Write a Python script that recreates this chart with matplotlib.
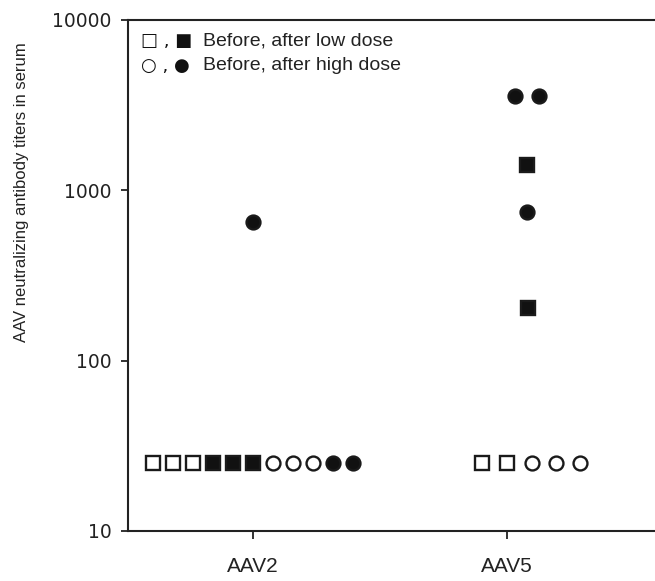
import numpy as np
from matplotlib import pyplot as plt

# group positions on the x axis
groups = ["AAV2", "AAV5"]
group_pos = [1, 2]

# AAV2: offsets from the group tick, and titers
aav2_open_sq_dx = [-0.394, -0.315, -0.236]
aav2_open_sq_y = [25, 25, 25]
aav2_fill_sq_dx = [-0.157, -0.079, 0.0]
aav2_fill_sq_y = [25, 25, 25]
aav2_open_ci_dx = [0.079, 0.157, 0.236]
aav2_open_ci_y = [25, 25, 25]
aav2_fill_ci_dx = [0.0, 0.315, 0.394]
aav2_fill_ci_y = [650, 25, 25]

# AAV5
aav5_open_sq_dx = [-0.098, 0.0]
aav5_open_sq_y = [25, 25]
aav5_fill_sq_dx = [0.079, 0.083]
aav5_fill_sq_y = [1400, 205]
aav5_open_ci_dx = [0.098, 0.193, 0.287]
aav5_open_ci_y = [25, 25, 25]
aav5_fill_ci_dx = [0.031, 0.126, 0.079]
aav5_fill_ci_y = [3600, 3600, 750]

legend_labels = ["Before, after low dose", "Before, after high dose"]
legend_glyphs = ["\u25a1 , \u25a0", "\u25cb , \u25cf"]

fig = plt.figure(figsize=(6.55, 5.81), dpi=100)
ax = fig.add_axes([0.1954, 0.0861, 0.8046, 0.8795])

ms = 10
mew = 1.7


def draw(pos, dx, y, marker, filled):
    x = pos + np.array(dx)
    ax.plot(x, y, linestyle="none", marker=marker, markersize=ms,
            markeredgewidth=mew, markeredgecolor="#1a1a1a",
            markerfacecolor="#111111" if filled else "white", clip_on=False)


draw(group_pos[0], aav2_open_sq_dx, aav2_open_sq_y, "s", False)
draw(group_pos[0], aav2_fill_sq_dx, aav2_fill_sq_y, "s", True)
draw(group_pos[0], aav2_open_ci_dx, aav2_open_ci_y, "o", False)
draw(group_pos[0], aav2_fill_ci_dx, aav2_fill_ci_y, "o", True)
draw(group_pos[1], aav5_open_sq_dx, aav5_open_sq_y, "s", False)
draw(group_pos[1], aav5_fill_sq_dx, aav5_fill_sq_y, "s", True)
draw(group_pos[1], aav5_open_ci_dx, aav5_open_ci_y, "o", False)
draw(group_pos[1], aav5_fill_ci_dx, aav5_fill_ci_y, "o", True)

ax.set_yscale("log")
ax.set_ylim(10, 10000)
ax.set_xlim(0.508, 2.583)
ax.set_yticks([10, 100, 1000, 10000])
ax.set_yticklabels(["10", "100", "1000", "10000"], fontfamily="DejaVu Sans", fontsize=13.5)
ax.yaxis.set_minor_locator(plt.NullLocator())
ax.set_xticks(group_pos)
ax.set_xticklabels(groups, fontfamily="Liberation Sans", fontsize=15)
ax.tick_params(axis="y", direction="out", length=5, width=1.3, pad=7, colors="#222222")
ax.tick_params(axis="x", direction="out", length=6, width=1.3, pad=13, colors="#222222")

ax.spines["right"].set_visible(False)
for s in ["left", "bottom", "top"]:
    ax.spines[s].set_linewidth(1.5)
    ax.spines[s].set_color("#222222")

ax.set_ylabel("AAV neutralizing antibody titers in serum",
              fontfamily="Liberation Sans", fontsize=12, color="#222222")
ax.yaxis.set_label_coords(-0.187, 0.663)

for i, (g, lab) in enumerate(zip(legend_glyphs, legend_labels)):
    yy = 0.959 - i * 0.049
    ax.text(0.025, yy, g, transform=ax.transAxes, fontfamily="DejaVu Sans",
            fontsize=13, va="center", color="#111111")
    ax.text(0.142, yy, lab, transform=ax.transAxes, fontfamily="Liberation Sans",
            fontsize=14, va="center", color="#222222")

fig.savefig("out.png", dpi=100)
